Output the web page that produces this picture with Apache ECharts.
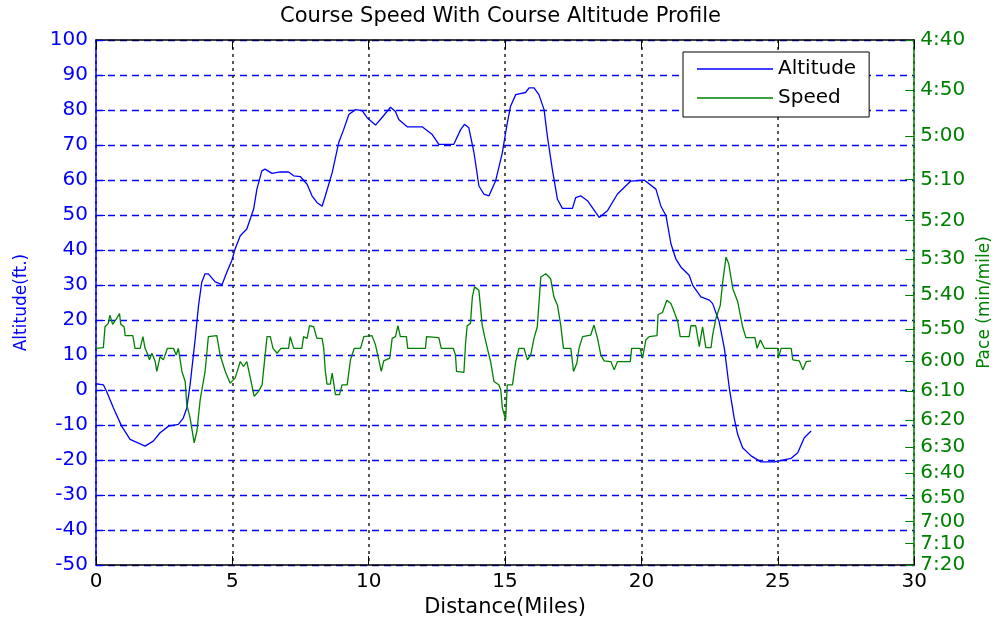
<!DOCTYPE html>
<html>
<head>
<meta charset="utf-8">
<script src="https://cdn.jsdelivr.net/npm/echarts@6/dist/echarts.min.js"></script>
<style>
  html, body { margin: 0; padding: 0; background: #fff; }
  #chart { width: 1001px; height: 623px; }
</style>
</head>
<body>
<div id="chart"></div>
<script>
// altitude profile (miles, feet)
const altDist = [0, 0.27, 0.39, 0.64, 0.94, 1.25, 1.8, 2.1, 2.35, 2.66, 3.02, 3.2, 3.33, 3.45, 3.64, 3.76, 3.88, 4.0, 4.12, 4.37, 4.62, 4.8, 4.98, 5.1, 5.29, 5.53, 5.78, 5.9, 6.08, 6.2, 6.45, 6.76, 7.06, 7.25, 7.49, 7.74, 7.92, 8.1, 8.29, 8.41, 8.66, 8.9, 9.08, 9.27, 9.51, 9.76, 9.94, 10.25, 10.45, 10.8, 10.98, 11.1, 11.41, 11.96, 12.33, 12.57, 13.12, 13.37, 13.51, 13.67, 13.86, 14.04, 14.22, 14.41, 14.65, 14.9, 15.06, 15.2, 15.39, 15.75, 15.88, 16.06, 16.24, 16.43, 16.55, 16.73, 16.92, 17.1, 17.47, 17.59, 17.77, 18.02, 18.45, 18.75, 19.12, 19.61, 20.1, 20.53, 20.71, 20.9, 21.08, 21.26, 21.45, 21.75, 21.88, 22.18, 22.49, 22.61, 22.85, 23.04, 23.22, 23.4, 23.53, 23.71, 24.02, 24.38, 24.87, 25.49, 25.73, 25.97, 26.22];
const altFeet = [1.8, 1.5, -0.4, -5.1, -10.3, -14.1, -16, -14.6, -12.2, -10.3, -9.8, -8, -5.1, 1.5, 14.8, 24.2, 30.9, 33.2, 33.2, 30.9, 30.1, 33.7, 37, 40.3, 44.1, 46, 51.7, 57.4, 62.6, 63.1, 61.9, 62.3, 62.3, 61.2, 61, 58.8, 55.5, 53.6, 52.5, 55.5, 62.1, 70.7, 74.4, 78.7, 80.1, 79.8, 77.8, 75.7, 77.5, 80.8, 79.6, 77.3, 75.2, 75.2, 73, 70.2, 70.2, 74.4, 75.9, 74.9, 67.8, 58.3, 56, 55.5, 59.7, 67.8, 75.4, 81.1, 84.4, 85, 86.3, 86.3, 84.4, 80.1, 72.5, 63.1, 54.5, 51.9, 51.9, 55, 55.5, 54.1, 49.3, 51.2, 56, 59.7, 60, 57.4, 52.6, 49.8, 41.8, 37.5, 35.1, 32.8, 29.9, 26.6, 25.7, 24.7, 19.5, 11.9, 0.6, -8, -12.7, -16.5, -18.8, -20.5, -20.5, -19.5, -17.9, -13.6, -11.7];

// speed (miles, mph)
const speedDist = [0, 0.27, 0.33, 0.45, 0.51, 0.61, 0.76, 0.86, 0.91, 1.03, 1.07, 1.35, 1.43, 1.62, 1.72, 1.8, 1.88, 1.96, 2.05, 2.17, 2.23, 2.35, 2.47, 2.62, 2.84, 2.94, 3.02, 3.15, 3.27, 3.33, 3.45, 3.6, 3.7, 3.82, 4.0, 4.12, 4.43, 4.55, 4.74, 4.92, 5.1, 5.29, 5.41, 5.53, 5.66, 5.8, 5.96, 6.09, 6.27, 6.39, 6.49, 6.64, 6.78, 7.06, 7.12, 7.25, 7.55, 7.61, 7.74, 7.83, 7.98, 8.1, 8.29, 8.35, 8.41, 8.47, 8.59, 8.66, 8.78, 8.93, 9.02, 9.21, 9.33, 9.47, 9.7, 9.82, 10.12, 10.25, 10.37, 10.46, 10.55, 10.77, 10.86, 10.98, 11.07, 11.16, 11.38, 11.43, 12.08, 12.12, 12.57, 12.66, 13.1, 13.18, 13.22, 13.49, 13.55, 13.61, 13.73, 13.8, 13.88, 14.04, 14.16, 14.25, 14.35, 14.47, 14.59, 14.77, 14.84, 14.9, 15.02, 15.08, 15.27, 15.39, 15.51, 15.69, 15.82, 15.94, 16.06, 16.18, 16.31, 16.49, 16.67, 16.79, 16.92, 17.04, 17.14, 17.41, 17.51, 17.63, 17.71, 17.84, 18.14, 18.26, 18.39, 18.51, 18.63, 18.88, 19.0, 19.12, 19.59, 19.64, 19.95, 20.04, 20.16, 20.28, 20.57, 20.61, 20.77, 20.93, 21.08, 21.2, 21.33, 21.42, 21.75, 21.81, 21.99, 22.12, 22.24, 22.36, 22.55, 22.61, 22.73, 22.89, 22.98, 23.1, 23.2, 23.35, 23.53, 23.71, 23.83, 24.16, 24.24, 24.36, 24.51, 25.0, 25.02, 25.12, 25.49, 25.55, 25.79, 25.92, 26.04, 26.22];
const speedMph = [10.112, 10.118, 10.304, 10.334, 10.407, 10.325, 10.378, 10.422, 10.325, 10.304, 10.225, 10.225, 10.112, 10.112, 10.216, 10.112, 10.068, 10.009, 10.068, 9.994, 9.906, 10.039, 10.009, 10.112, 10.112, 10.053, 10.112, 9.906, 9.817, 9.61, 9.492, 9.271, 9.375, 9.654, 9.906, 10.216, 10.225, 10.053, 9.906, 9.802, 9.847, 9.994, 9.95, 9.994, 9.847, 9.685, 9.729, 9.787, 10.216, 10.216, 10.112, 10.068, 10.112, 10.112, 10.216, 10.112, 10.112, 10.216, 10.201, 10.313, 10.304, 10.201, 10.201, 10.112, 9.906, 9.793, 9.793, 9.891, 9.699, 9.699, 9.787, 9.787, 10.009, 10.112, 10.112, 10.216, 10.225, 10.141, 10.009, 9.906, 10.0, 10.024, 10.201, 10.216, 10.313, 10.216, 10.216, 10.112, 10.112, 10.216, 10.207, 10.112, 10.112, 10.053, 9.906, 9.897, 10.157, 10.313, 10.334, 10.57, 10.659, 10.628, 10.319, 10.216, 10.112, 9.994, 9.817, 9.787, 9.743, 9.581, 9.477, 9.787, 9.787, 9.994, 10.112, 10.112, 10.009, 10.053, 10.201, 10.304, 10.747, 10.776, 10.732, 10.57, 10.496, 10.319, 10.112, 10.112, 9.906, 9.979, 10.112, 10.216, 10.23, 10.319, 10.201, 10.053, 10.0, 9.994, 9.92, 9.994, 9.994, 10.112, 10.112, 10.024, 10.186, 10.216, 10.225, 10.413, 10.431, 10.54, 10.511, 10.437, 10.349, 10.216, 10.216, 10.313, 10.313, 10.127, 10.304, 10.118, 10.118, 10.23, 10.378, 10.496, 10.703, 10.924, 10.865, 10.643, 10.526, 10.304, 10.207, 10.207, 10.112, 10.186, 10.112, 10.112, 10.024, 10.112, 10.112, 10.009, 10.0, 9.92, 9.994, 10.0];

// right axis tick labels (pace, min:sec per mile)
const paceLabels = ['4:40', '4:50', '5:00', '5:10', '5:20', '5:30', '5:40', '5:50', '6:00', '6:10', '6:20', '6:30', '6:40', '6:50', '7:00', '7:10', '7:20'];

const paceToMph = p => {
  const [m, s] = p.split(':').map(Number);
  return 3600 / (m * 60 + s);
};
const paceTicks = paceLabels.map(paceToMph);

const FONT = '"DejaVu Sans", "Liberation Sans", Arial, sans-serif';
const BLUE = '#0000ff';
const GREEN = '#008000';

const chart = echarts.init(document.getElementById('chart'));

chart.setOption({
  animation: false,
  backgroundColor: '#fff',
  title: {
    text: 'Course Speed With Course Altitude Profile',
    left: 'center',
    top: 6,
    padding: 0,
    textStyle: { fontFamily: FONT, fontSize: 21, fontWeight: 'normal', color: '#000' }
  },
  legend: {
    orient: 'vertical',
    left: 683,
    top: 52,
    padding: [7, 13, 9, 14],
    itemGap: 9,
    itemWidth: 76,
    itemHeight: 1.5,
    icon: 'rect',
    backgroundColor: '#fff',
    borderColor: '#000',
    borderWidth: 1,
    borderRadius: 0,
    textStyle: { fontFamily: FONT, fontSize: 20, color: '#000', lineHeight: 20 },
    data: ['Altitude', 'Speed']
  },
  grid: { left: 96, right: 86, top: 40, bottom: 54 },
  xAxis: [
    {
      type: 'value',
      min: 0,
      max: 30,
      interval: 5,
      name: 'Distance(Miles)',
      nameLocation: 'middle',
      nameGap: 27,
      nameTextStyle: { fontFamily: FONT, fontSize: 21, color: '#000' },
      axisLine: { show: true, onZero: false, lineStyle: { color: '#000', width: 1.5 } },
      axisTick: { show: true, inside: true, length: 9, lineStyle: { color: '#000' } },
      axisLabel: { fontFamily: FONT, fontSize: 20, color: '#000', margin: 7 },
      splitLine: { show: true, lineStyle: { color: '#222', type: [3, 4], width: 1.5 } }
    },
    {
      type: 'value',
      position: 'top',
      min: 0,
      max: 30,
      interval: 5,
      axisLine: { show: true, onZero: false, lineStyle: { color: '#000', width: 1.5 } },
      axisTick: { show: true, inside: true, length: 9, lineStyle: { color: '#000' } },
      axisLabel: { show: false },
      splitLine: { show: false }
    }
  ],
  yAxis: [
    {
      type: 'value',
      min: -50,
      max: 100,
      interval: 10,
      name: 'Altitude(ft.)',
      nameLocation: 'middle',
      nameRotate: 90,
      nameGap: 66,
      nameTextStyle: { fontFamily: FONT, fontSize: 17, color: BLUE },
      axisLine: { show: true, onZero: false, lineStyle: { color: BLUE, width: 1.5 } },
      axisTick: { show: true, inside: true, length: 9, lineStyle: { color: BLUE } },
      axisLabel: { fontFamily: FONT, fontSize: 20, color: BLUE, margin: 8 },
      splitLine: { show: true, lineStyle: { color: BLUE, type: [7, 5], width: 1.4 } }
    },
    {
      type: 'value',
      position: 'right',
      min: paceTicks[paceTicks.length - 1],
      max: paceTicks[0],
      name: 'Pace (min/mile)',
      nameLocation: 'middle',
      nameRotate: 90,
      nameGap: 60,
      nameTextStyle: { fontFamily: FONT, fontSize: 17, color: GREEN },
      axisLine: { show: true, onZero: false, lineStyle: { color: GREEN, width: 1.5 } },
      axisTick: { show: true, inside: true, length: 9, customValues: paceTicks, lineStyle: { color: GREEN } },
      axisLabel: {
        fontFamily: FONT,
        fontSize: 20,
        color: GREEN,
        margin: 6,
        customValues: paceTicks,
        formatter: v => {
          const sec = Math.round(3600 / v);
          return Math.floor(sec / 60) + ':' + String(sec % 60).padStart(2, '0');
        }
      },
      splitLine: { show: false }
    }
  ],
  series: [
    {
      name: 'Altitude',
      type: 'line',
      xAxisIndex: 0,
      yAxisIndex: 0,
      symbol: 'none',
      lineStyle: { color: BLUE, width: 1.3 },
      itemStyle: { color: BLUE },
      data: altDist.map((d, i) => [d, altFeet[i]])
    },
    {
      name: 'Speed',
      type: 'line',
      xAxisIndex: 0,
      yAxisIndex: 1,
      symbol: 'none',
      lineStyle: { color: GREEN, width: 1.3 },
      itemStyle: { color: GREEN },
      data: speedDist.map((d, i) => [d, speedMph[i]])
    }
  ]
});
</script>
</body>
</html>
